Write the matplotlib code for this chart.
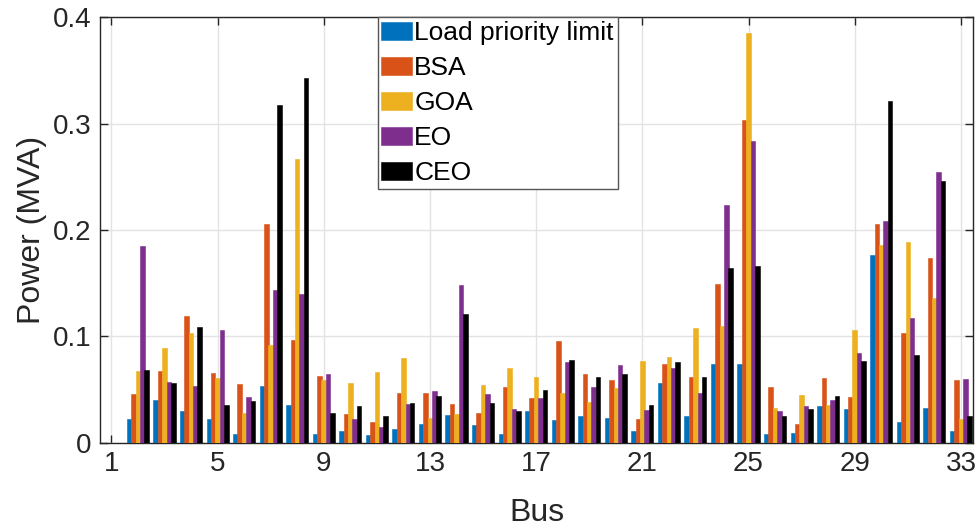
import numpy as np
import matplotlib
matplotlib.use("Agg")
import matplotlib.pyplot as plt

plt.rcParams["font.family"] = ["Liberation Sans", "DejaVu Sans"]

# bus 1 is the slack bus and carries no load, so the data start at bus 2
buses = np.arange(2, 34)

load_priority_limit = [0.022, 0.040, 0.030, 0.022, 0.0085, 0.053, 0.0355, 0.0085,
                       0.011, 0.007, 0.013, 0.0176, 0.026, 0.0167, 0.008, 0.030,
                       0.0214, 0.025, 0.0232, 0.0113, 0.056, 0.025, 0.074, 0.074,
                       0.008, 0.009, 0.0345, 0.0317, 0.1767, 0.0195, 0.0324, 0.011]
bsa = [0.0455, 0.0675, 0.119, 0.0656, 0.0552, 0.206, 0.0964, 0.0628,
       0.0267, 0.020, 0.0465, 0.0468, 0.036, 0.0277, 0.0527, 0.0418,
       0.0954, 0.0647, 0.0587, 0.0223, 0.0741, 0.0621, 0.149, 0.3034,
       0.0524, 0.0176, 0.0606, 0.0427, 0.2058, 0.1032, 0.1741, 0.059]
goa = [0.0675, 0.0894, 0.1035, 0.0612, 0.0277, 0.092, 0.2667, 0.0587,
       0.0562, 0.0665, 0.0794, 0.0235, 0.027, 0.0543, 0.070, 0.0621,
       0.047, 0.0383, 0.0515, 0.0769, 0.0804, 0.1077, 0.1095, 0.3856,
       0.0327, 0.0446, 0.0355, 0.1061, 0.1858, 0.1889, 0.1365, 0.0226]
eo = [0.185, 0.057, 0.0534, 0.1058, 0.0433, 0.1437, 0.140, 0.065,
      0.0223, 0.015, 0.0361, 0.0484, 0.148, 0.0455, 0.0317, 0.042,
      0.076, 0.0524, 0.0728, 0.0305, 0.0703, 0.0468, 0.2234, 0.2837,
      0.0301, 0.0342, 0.0402, 0.0841, 0.2087, 0.1174, 0.2545, 0.060]
ceo = [0.0687, 0.0565, 0.1086, 0.0352, 0.039, 0.318, 0.3435, 0.028,
       0.0342, 0.0248, 0.0374, 0.044, 0.1208, 0.0374, 0.0295, 0.0496,
       0.0778, 0.0615, 0.0644, 0.0352, 0.076, 0.0615, 0.1647, 0.1663,
       0.0251, 0.0317, 0.044, 0.0769, 0.3213, 0.0828, 0.2463, 0.0251]

series = [
    ("Load priority limit", load_priority_limit, "#0072BD"),
    ("BSA", bsa, "#D95319"),
    ("GOA", goa, "#EDB120"),
    ("EO", eo, "#7E2F8E"),
    ("CEO", ceo, "#000000"),
]

fig = plt.figure(figsize=(9.8, 5.29), dpi=100)
ax = fig.add_axes([0.102, 0.163, 0.891, 0.804])

step = 0.165
width = 0.172
for i, (name, vals, color) in enumerate(series):
    ax.bar(buses + (i - 2) * step, vals, width=width, color=color,
           edgecolor=color, linewidth=0.4, label=name, zorder=3)

ax.set_xlim(0.57, 33.46)
ax.set_ylim(0, 0.4)
ax.set_xticks(np.arange(1, 34, 4))
ax.set_yticks([0, 0.1, 0.2, 0.3, 0.4])
ax.set_yticklabels(["0", "0.1", "0.2", "0.3", "0.4"])

ax.grid(True, color="#e3e3e3", linewidth=1.0, zorder=0)
ax.set_axisbelow(True)
for side in ax.spines.values():
    side.set_color("#262626")
    side.set_linewidth(1.0)
ax.tick_params(direction="in", length=6, width=1.0, colors="#262626",
               labelsize=20, top=True, right=True, pad=6)
for lbl in ax.get_xticklabels() + ax.get_yticklabels():
    lbl.set_color("#262626")

ax.set_xlabel("Bus", fontsize=23, color="#262626", labelpad=15)
ax.set_ylabel("Power (MVA)", fontsize=23, color="#262626", labelpad=4)

leg = ax.legend(loc="upper left", bbox_to_anchor=(0.318, 1.0), borderaxespad=0,
                fontsize=19, frameon=True, fancybox=False, framealpha=1,
                edgecolor="#555555", handlelength=1.15, handleheight=0.7,
                handletextpad=0.1, labelspacing=0.42, borderpad=0.14)
leg.get_frame().set_linewidth(1.0)

fig.savefig("out.png", dpi=100)
